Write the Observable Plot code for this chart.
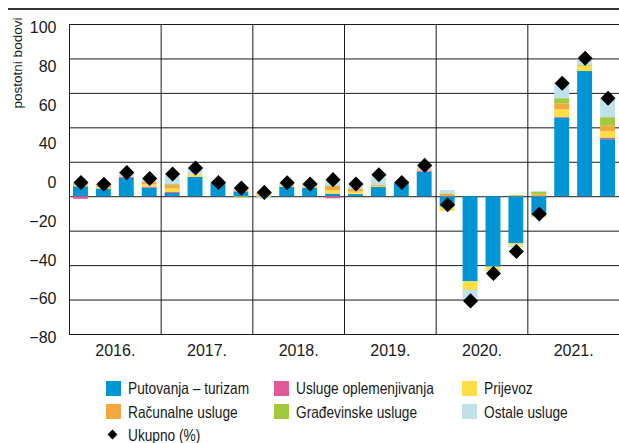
<!DOCTYPE html>
<html>
<head>
<meta charset="utf-8">
<script src="https://cdn.jsdelivr.net/npm/d3@7"></script>
<script src="https://cdn.jsdelivr.net/npm/@observablehq/plot@0.6"></script>
<style>
  html, body { margin: 0; padding: 0; background: #fff; }
  #wrap { position: relative; width: 619px; height: 443px; overflow: hidden;
    font-family: "Liberation Sans", Arial, sans-serif; color: #1a1a1a; }
  #chart { position: absolute; left: 0; top: 0; }
  #rule { position: absolute; left: 8px; right: 0; top: 8px; border-top: 2px solid #333; }
  #ylab { position: absolute; left: 17px; top: 63px; transform: translate(-50%, -50%) rotate(-90deg);
    font-size: 13.5px; white-space: nowrap; }
  .lg { position: absolute; font-size: 16.5px; line-height: 16px; white-space: nowrap;
    transform: scaleX(0.83); transform-origin: 0 50%; }
  .sw { position: absolute; width: 15px; height: 15px; }
</style>
</head>
<body>
<div id="wrap">
  <div id="chart"></div>
  <div id="rule"></div>
  <div id="ylab">postotni bodovi</div>
  <div id="legend"></div>
</div>
<script>
// ---- data ----
const years = ["2016.", "2017.", "2018.", "2019.", "2020.", "2021."];
const quarterNames = ["Q1", "Q2", "Q3", "Q4"];
const seriesNames = ["Putovanja – turizam", "Usluge oplemenjivanja", "Prijevoz",
                     "Računalne usluge", "Građevinske usluge", "Ostale usluge"];
const seriesColors = ["#0096d6", "#e05a97", "#ffdd45", "#f6a840", "#a2c83c", "#bfe2ea"];
const totalName = "Ukupno (%)";

const putovanja  = [5.8, 4.5, 10.7, 5.0,   1.9, 11.3, 7.8, 2.5,   0.0, 5.4, 5.0, 1.5,   1.2, 5.4, 7.6, 14.3,  -6.0, -49.4, -40.9, -27.3,  -11.2, 45.7, 72.7, 33.1];
const oplemenj   = [-1.5, 0, 0.6, 0.6,     0.6, 0, 0, 0.4,        0, 0, 0, -1.2,         0.2, 0, 0, 0.6,        0, 0, 0, 0,                  0, 0.3, 0, 0.8];
const prijevoz   = [0.8, 1.0, 0.3, 1.5,    2.0, 1.4, 0, 0.5,      1.0, 0.8, 0.8, 2.0,    1.4, 0.6, 0.3, 0.4,    -2.5, -5.0, -1.9, -1.4,      -1.0, 4.5, 3.1, 3.9];
const racunalne  = [0.7, 0.5, 0, 1.2,      2.0, 0, 0, 0.5,        1.0, 0.6, 0.6, 2.4,    1.5, 0.6, 0, 0.4,      1.4, 0, 0, 0.6,              1.0, 3.3, 0, 3.1];
const gradjevin  = [0, 0, 0, 0,            0.5, 0, 0, -0.6,       0, 0, 0, 0,            0, 0, 0, 0,            0.3, 0, 0, 0,                1.7, 3.1, 0.4, 5.0];
const ostale     = [0.5, 0.8, 2.5, 1.5,    5.0, 3.5, 0.6, 1.0,    -1.2, 1.0, 0.8, 2.9,   1.4, 4.3, 0.5, 1.6,    1.9, -5.2, -0.8, -1.0,       0.4, 8.5, 3.3, 10.3];
const ukupno     = [8.3, 7.2, 14.0, 10.6,  13.2, 16.7, 8.3, 5.0,  2.5, 8.1, 7.4, 9.9,    7.4, 12.8, 8.3, 18.2,  -4.7, -60.5, -44.6, -31.8,   -10.0, 65.9, 80.4, 57.2];

const yGrid = [100, 80, 60, 40, 20, 0, -20, -40, -60, -80];
const yTickLabels = ["100", "80", "60", "40", "0", "−20", "−40", "−60", "−80"];

// ---- build tables ----
const seriesValues = [putovanja, oplemenj, prijevoz, racunalne, gradjevin, ostale];
const quarters = years.flatMap(y => quarterNames.map(q => y + q));
const rows = [];
seriesValues.forEach((vals, k) => vals.forEach((v, i) => rows.push({i, series: seriesNames[k], value: v})));
const totals = ukupno.map((v, i) => ({i, value: v}));
const yMin = -80, yMax = 100;

const chart = Plot.plot({
  width: 619,
  height: 370,
  marginTop: 24,
  marginBottom: 36,
  marginLeft: 69,
  marginRight: 0,
  x: {domain: [0, quarters.length], axis: null},
  y: {domain: [yMin, yMax], axis: null},
  color: {domain: seriesNames, range: seriesColors},
  style: {fontFamily: '"Liberation Sans", Arial, sans-serif', background: "transparent"},
  marks: [
    Plot.ruleY(yGrid, {stroke: "#1a1a1a", strokeWidth: 1}),
    Plot.ruleX(years.map((y, k) => k * 4), {stroke: "#1a1a1a", strokeWidth: 1}),
    Plot.rectY(rows, {x1: "i", x2: d => d.i + 1, y: "value", fill: "series", insetLeft: 4, insetRight: 4}),
    Plot.dot(totals, {x: d => d.i + 0.5, y: "value", symbol: "diamond2", r: 6.8, fill: "#000"}),
    Plot.text(yTickLabels, {frameAnchor: "left", y: (d, k) => yMax - k * (yMax - yMin) / (yTickLabels.length - 1),
      dx: -13, dy: 3.5, textAnchor: "end", fontSize: 16, fill: "#1a1a1a"}),
    Plot.text(years, {x: (d, k) => k * 4 + 2, frameAnchor: "bottom", dy: 21, fontSize: 16, fill: "#1a1a1a"})
  ]
});
document.getElementById("chart").appendChild(chart);

// ---- legend ----
const legend = document.getElementById("legend");
const colX = [106, 274, 462];
const rowY = [388, 411.5];
seriesNames.forEach((name, k) => {
  const c = k % 3, r = Math.floor(k / 3);
  const sw = document.createElement("div");
  sw.className = "sw";
  sw.style.left = colX[c] + "px";
  sw.style.top = (rowY[r] - 7.5) + "px";
  sw.style.background = seriesColors[k];
  legend.appendChild(sw);
  const t = document.createElement("div");
  t.className = "lg";
  t.textContent = name;
  t.style.left = (colX[c] + 22) + "px";
  t.style.top = (rowY[r] - 8) + "px";
  legend.appendChild(t);
});
const dm = document.createElement("div");
dm.style.cssText = "position:absolute;left:108.5px;top:431px;width:7px;height:7px;background:#000;transform:rotate(45deg);";
legend.appendChild(dm);
const tt = document.createElement("div");
tt.className = "lg";
tt.textContent = totalName;
tt.style.left = "128px";
tt.style.top = (435 - 8) + "px";
legend.appendChild(tt);
</script>
</body>
</html>
